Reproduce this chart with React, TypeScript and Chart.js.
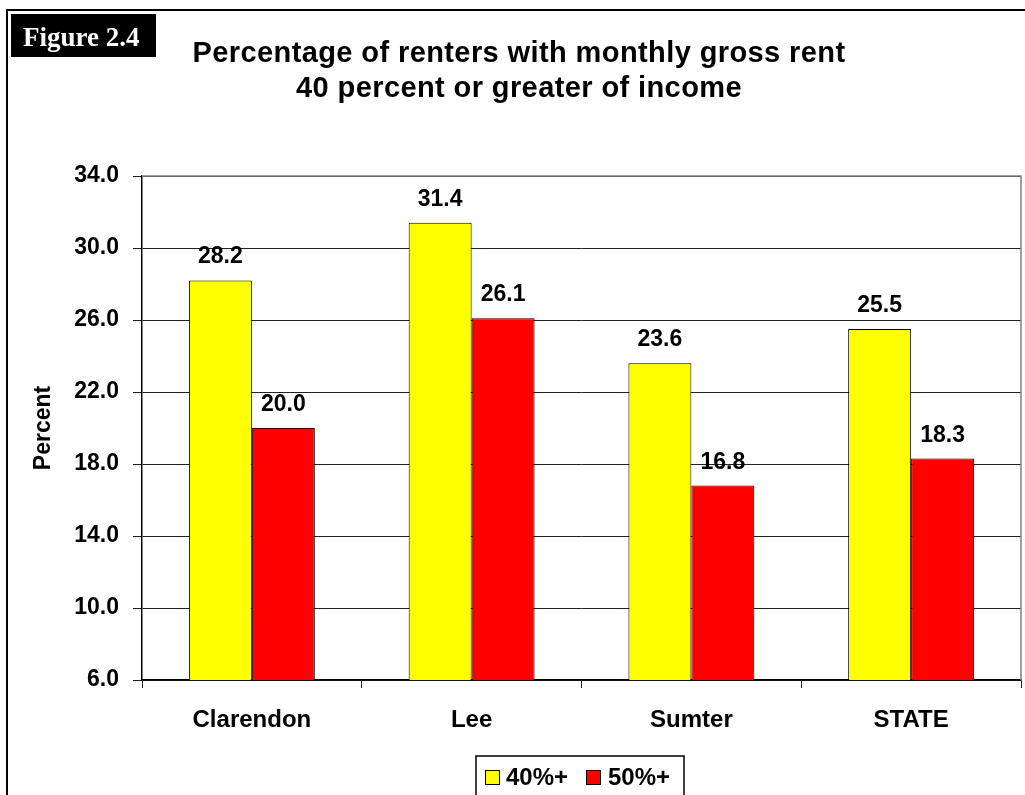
import React, { useEffect, useRef } from 'react';
import { Chart, registerables } from 'chart.js';

Chart.register(...registerables);

const categories = ['Clarendon', 'Lee', 'Sumter', 'STATE'];
const series40 = [28.2, 31.4, 23.6, 25.5];
const series50 = [20.0, 26.1, 16.8, 18.3];
const seriesLabels = ['40%+', '50%+'];
const seriesColors = ['#FFFF00', '#FF0000'];
const yTicks = [6, 10, 14, 18, 22, 26, 30, 34];
const titleLines = ['Percentage of renters with monthly gross rent', '40 percent or greater of income'];
const figureLabel = 'Figure 2.4';
const yAxisTitle = 'Percent';

const SANS = '"Liberation Sans", Arial, sans-serif';
const SERIF = '"Liberation Serif", "Times New Roman", serif';

const decorPlugin = {
  id: 'decor',
  beforeDraw(chart: any) {
    const ctx = chart.ctx as CanvasRenderingContext2D;
    ctx.save();
    ctx.fillStyle = '#fff';
    ctx.fillRect(0, 0, chart.width, chart.height);
    // outer frame
    ctx.strokeStyle = '#000';
    ctx.lineWidth = 2;
    ctx.beginPath();
    ctx.moveTo(7, chart.height + 5);
    ctx.lineTo(7, 10);
    ctx.lineTo(chart.width + 5, 10);
    ctx.stroke();
    // figure label box
    ctx.fillStyle = '#000';
    ctx.fillRect(11, 14, 145, 43);
    ctx.fillStyle = '#fff';
    ctx.font = `bold 27px ${SERIF}`;
    ctx.textAlign = 'left';
    ctx.textBaseline = 'alphabetic';
    ctx.fillText(figureLabel, 23, 46);
    // title
    ctx.fillStyle = '#000';
    ctx.font = `bold 29px ${SANS}`;
    (ctx as any).letterSpacing = '0.4px';
    ctx.textAlign = 'center';
    ctx.fillText(titleLines[0], 519, 62);
    ctx.fillText(titleLines[1], 519, 97);
    (ctx as any).letterSpacing = '0px';
    ctx.restore();
  },
  afterDatasetsDraw(chart: any) {
    const ctx = chart.ctx as CanvasRenderingContext2D;
    const area = chart.chartArea;
    ctx.save();
    // plot border top/right
    ctx.strokeStyle = '#808080';
    ctx.lineWidth = 1.5;
    ctx.beginPath();
    ctx.moveTo(area.left, area.top);
    ctx.lineTo(area.right, area.top);
    ctx.lineTo(area.right, area.bottom);
    ctx.stroke();
    // data labels
    ctx.fillStyle = '#000';
    ctx.font = `bold 23px ${SANS}`;
    ctx.textAlign = 'center';
    ctx.textBaseline = 'alphabetic';
    chart.data.datasets.forEach((ds: any, di: number) => {
      const meta = chart.getDatasetMeta(di);
      meta.data.forEach((bar: any, i: number) => {
        ctx.fillText(Number(ds.data[i]).toFixed(1), bar.x, bar.y - 17);
      });
    });
    // legend
    ctx.strokeStyle = '#000';
    ctx.lineWidth = 1.5;
    ctx.strokeRect(476, 756, 208, 60);
    const items = [
      { sx: 485, tx: 506 },
      { sx: 586, tx: 608 },
    ];
    ctx.font = `bold 24px ${SANS}`;
    ctx.textAlign = 'left';
    items.forEach((it, i) => {
      ctx.fillStyle = seriesColors[i];
      ctx.fillRect(it.sx, 770, 14, 14);
      ctx.lineWidth = 1;
      ctx.strokeRect(it.sx + 0.5, 770.5, 14, 14);
      ctx.fillStyle = '#000';
      ctx.fillText(seriesLabels[i], it.tx, 785);
    });
    ctx.restore();
  },
};

export default function App() {
  const ref = useRef<HTMLCanvasElement | null>(null);
  useEffect(() => {
    if (!ref.current) return;
    const chart = new Chart(ref.current, {
      type: 'bar',
      data: {
        labels: categories,
        datasets: [
          {
            label: seriesLabels[0],
            data: series40,
            backgroundColor: seriesColors[0],
            borderColor: '#000',
            borderWidth: 1,
            categoryPercentage: 0.573,
            barPercentage: 1,
          },
          {
            label: seriesLabels[1],
            data: series50,
            backgroundColor: seriesColors[1],
            borderColor: '#000',
            borderWidth: 1,
            categoryPercentage: 0.573,
            barPercentage: 1,
          },
        ],
      },
      options: {
        responsive: false,
        animation: false,
        layout: { padding: { top: 176, right: 4, bottom: 0, left: 0 } },
        plugins: {
          legend: { display: false },
          title: { display: false },
          tooltip: { enabled: false },
        },
        scales: {
          x: {
            afterFit: (scale: any) => {
              scale.height = 115;
            },
            grid: {
              display: true,
              drawOnChartArea: false,
              drawTicks: true,
              tickLength: 8,
              color: '#222',
              offset: true,
            },
            border: { color: '#000', width: 1.5 },
            ticks: {
              color: '#000',
              font: { family: SANS, size: 24, weight: 'bold' },
              padding: 18,
            },
          },
          y: {
            min: 6,
            max: 34,
            afterFit: (scale: any) => {
              scale.width = 142;
            },
            afterBuildTicks: (scale: any) => {
              scale.ticks = yTicks.map((v) => ({ value: v }));
            },
            grid: {
              color: '#222',
              tickColor: '#222',
              tickLength: 9,
            },
            border: { color: '#000', width: 1.5 },
            ticks: {
              color: '#000',
              font: { family: SANS, size: 23, weight: 'bold' },
              padding: 14,
              callback: (v: any) => Number(v).toFixed(1),
            },
            title: {
              display: true,
              text: yAxisTitle,
              color: '#000',
              font: { family: SANS, size: 23, weight: 'bold', lineHeight: 1 },
              padding: { top: 32, bottom: 0 },
            },
          },
        },
      },
      plugins: [decorPlugin],
    } as any);
    return () => chart.destroy();
  }, []);
  return (
    <div style={{ position: 'absolute', left: 0, top: 0, width: 1025, height: 795 }}>
      <canvas ref={ref} width={1025} height={795} style={{ display: 'block', width: 1025, height: 795 }} />
    </div>
  );
}
